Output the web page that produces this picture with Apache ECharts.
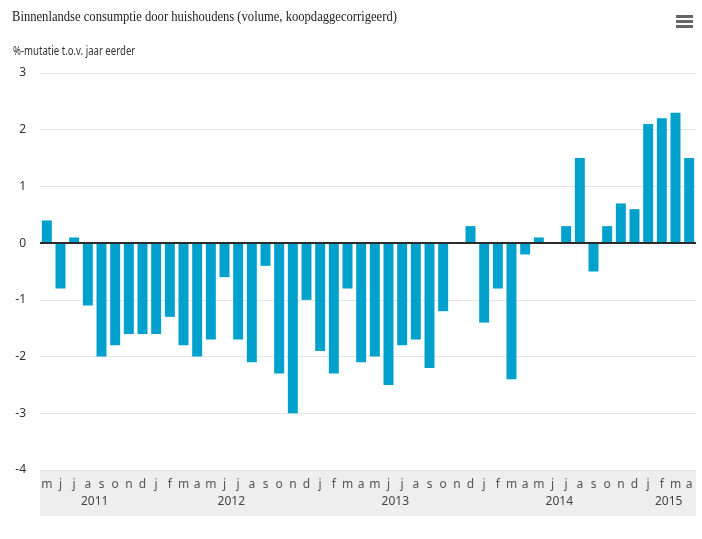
<!DOCTYPE html>
<html>
<head>
<meta charset="utf-8">
<script src="https://cdn.jsdelivr.net/npm/echarts@6/dist/echarts.min.js"></script>
<style>
  html, body { margin: 0; padding: 0; background: #fff; }
  #chart { width: 702px; height: 539px; }
</style>
</head>
<body>
<div id="chart"></div>
<script>
// maanden mei 2011 t/m april 2015
const months = ['m','j','j','a','s','o','n','d',
  'j','f','m','a','m','j','j','a','s','o','n','d',
  'j','f','m','a','m','j','j','a','s','o','n','d',
  'j','f','m','a','m','j','j','a','s','o','n','d',
  'j','f','m','a'];
// jaar en het aantal maanden per jaar op de as
const years = ['2011', '2012', '2013', '2014', '2015'];
const monthsPerYear = [8, 12, 12, 12, 4];
// %-mutatie t.o.v. jaar eerder
const values = [0.4, -0.8, 0.1, -1.1, -2.0, -1.8, -1.6, -1.6,
  -1.6, -1.3, -1.8, -2.0, -1.7, -0.6, -1.7, -2.1, -0.4, -2.3, -3.0, -1.0,
  -1.9, -2.3, -0.8, -2.1, -2.0, -2.5, -1.8, -1.7, -2.2, -1.2, 0, 0.3,
  -1.4, -0.8, -2.4, -0.2, 0.1, 0, 0.3, 1.5, -0.5, 0.3, 0.7, 0.6,
  2.1, 2.2, 2.3, 1.5];
const yTicks = { min: -4, max: 3, step: 1 };

const titleText = 'Binnenlandse consumptie door huishoudens (volume, koopdaggecorrigeerd)';
const subText = '%-mutatie t.o.v. jaar eerder';

// midden van elk jaar (in categorie-index)
let yearCenters = [];
let start = 0;
monthsPerYear.forEach(function (n) {
  yearCenters.push(start + (n - 1) / 2);
  start += n;
});

const chart = echarts.init(document.getElementById('chart'));

const option = {
  animation: false,
  graphic: [
    // titel (smal lettertype nagebootst met scaleX)
    {
      type: 'text', x: 12, y: 17, scaleX: 0.84,
      style: { text: titleText, font: '15px "Liberation Serif"', fill: '#222', verticalAlign: 'middle' }
    },
    {
      type: 'text', x: 13, y: 52, scaleX: 0.8,
      style: { text: subText, font: '12px "Noto Sans"', fill: '#333', verticalAlign: 'middle' }
    },
    // grijze band onder de as
    { type: 'rect', left: 40, top: 470, shape: { width: 656, height: 46 }, style: { fill: '#eeeeee' }, z: -10 },
    // menu-icoon
    { type: 'rect', left: 676, top: 15, shape: { width: 17, height: 3 }, style: { fill: '#666' } },
    { type: 'rect', left: 676, top: 20, shape: { width: 17, height: 3 }, style: { fill: '#666' } },
    { type: 'rect', left: 676, top: 25, shape: { width: 17, height: 3 }, style: { fill: '#666' } }
  ],
  grid: { left: 40, right: 6, top: 73, bottom: 69 },
  xAxis: [
    {
      type: 'category',
      data: months,
      position: 'bottom',
      axisLine: { show: false },
      axisTick: { show: false },
      axisLabel: { interval: 0, margin: 9, color: '#555', fontFamily: 'Noto Sans', fontSize: 12 }
    },
    {
      type: 'value',
      min: -0.5,
      max: months.length - 0.5,
      position: 'bottom',
      offset: 17,
      axisLine: { show: false },
      axisTick: { show: false },
      splitLine: { show: false },
      axisLabel: {
        customValues: yearCenters,
        margin: 9,
        color: '#444',
        fontFamily: 'Noto Sans',
        fontSize: 12,
        formatter: function (v) {
          let i = yearCenters.indexOf(v);
          return i >= 0 ? years[i] : '';
        }
      }
    }
  ],
  yAxis: {
    type: 'value',
    min: yTicks.min,
    max: yTicks.max,
    interval: yTicks.step,
    axisLine: { show: false },
    axisTick: { show: false },
    axisLabel: { margin: 14, color: '#333', fontFamily: 'Noto Sans', fontSize: 12, padding: [5, 0, 0, 0] },
    splitLine: { lineStyle: { color: '#e4e4e4', width: 1 } }
  },
  series: [
    {
      type: 'bar',
      data: values,
      xAxisIndex: 0,
      barCategoryGap: '27%',
      itemStyle: { color: '#00a1cd' },
      markLine: {
        silent: true,
        symbol: 'none',
        label: { show: false },
        lineStyle: { color: '#2b2b2b', width: 2, type: 'solid' },
        data: [{ yAxis: 0 }]
      }
    }
  ]
};

chart.setOption(option);
</script>
</body>
</html>
